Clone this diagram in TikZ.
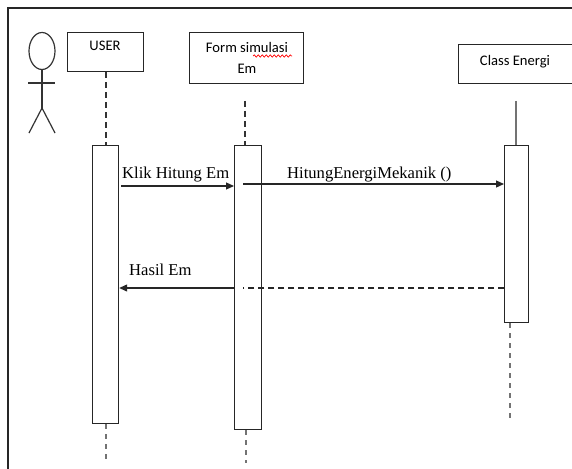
\documentclass[tikz,border=0pt]{standalone}
\usepackage{fontspec}
\setmainfont{Liberation Serif}
\newfontfamily\boxfont{Carlito}
\newfontfamily\msgfont{Liberation Serif}
\usetikzlibrary{arrows.meta,decorations.pathmorphing}
\begin{document}
\begin{tikzpicture}[x=1pt,y=-1pt,
  ln/.style={draw=black!85, line width=1.2pt},
  objbox/.style={ln, fill=white, inner sep=0pt, anchor=north west},
  objtext/.style={font=\boxfont\fontsize{14.6}{21}\selectfont, inner sep=0pt, anchor=base},
  actbox/.style={ln, fill=white, inner sep=0pt, anchor=north west},
  lifedash/.style={draw=black!80, line width=1.2pt, dash pattern=on 6pt off 4pt},
  lifetail/.style={draw=black!55, line width=1.5pt, dash pattern=on 5pt off 5pt},
  msg/.style={draw=black!85, line width=1.2pt, -{Triangle[length=8pt,width=7pt]}},
  retdash/.style={draw=black!85, line width=1.2pt, dash pattern=on 6pt off 4pt},
  msglabel/.style={font=\msgfont\fontsize{16.6}{19}\selectfont, inner sep=0pt, anchor=base west},
  figline/.style={draw=black!80, line width=1.2pt}
]
\useasboundingbox (0,0) rectangle (572,468);
\fill[white] (0,0) rectangle (572,468);

% frame
\draw[ln] (8,470) -- (8,8) -- (576,8);

% actor
\draw[figline] (42,51) ellipse [x radius=13pt, y radius=18.5pt];
\draw[figline] (42,69.5) -- (42,108);
\draw[figline] (28,83) -- (55,83);
\draw[figline] (29,133) -- (42,108) -- (55,133);

% object boxes
\node[objbox, minimum width=76pt, minimum height=39pt] (userbox) at (67,32) {};
\node[objtext] (usertxt) at (105,51) {USER};
\node[objbox, minimum width=114pt, minimum height=51pt] (formbox) at (189,32) {};
\node[objtext] (formtxt) at (247,53) {Form simulasi};
\node[objtext] (formtxt2) at (247,74) {Em};
\draw[red, line width=0.7pt, decorate, decoration={snake, segment length=4pt, amplitude=1.1pt}] (253,56) -- (292,56);
\node[objbox, minimum width=122pt, minimum height=39pt] (classbox) at (458,44) {};
\node[objtext] (classtxt) at (515,66) {Class Energi};

% activations
\node[actbox, minimum width=26pt, minimum height=278pt] (useract) at (92,145) {};
\node[actbox, minimum width=27pt, minimum height=284pt] (formact) at (234,145) {};
\node[actbox, minimum width=24pt, minimum height=177pt] (classact) at (504,145) {};

% lifelines (top)
\coordinate (ftop) at (245,101);
\coordinate (ctop) at (516,101);
\draw[lifedash] (userbox.south -| 106,0) -- (useract.north -| 106,0);
\draw[lifedash] (ftop) -- (ftop |- formact.north);
\draw[draw=black!55, line width=1.4pt] (ctop) -- (ctop |- classact.north);

% lifelines (bottom)
\coordinate (ubot) at (106,460);
\coordinate (fbot) at (246,463);
\coordinate (cbot) at (510,422);
\draw[lifetail] (ubot |- useract.south) -- (ubot);
\draw[lifetail] (fbot |- formact.south) -- (fbot);
\draw[lifetail] (cbot |- classact.south) -- (cbot);

% messages
\coordinate (m1) at (121,186);
\draw[msg] (m1) -- (formact.west |- m1);
\node[msglabel] (m1txt) at (122,178.5) {Klik Hitung Em};

\coordinate (m2) at (243,184);
\draw[msg] (m2) -- (classact.west |- m2);
\node[msglabel] (m2txt) at (287,178) {HitungEnergiMekanik ()};

\coordinate (r) at (243,288);
\draw[retdash] (classact.west |- r) -- (r);
\draw[msg] (formact.west |- r) -- (useract.east |- r);
\node[msglabel] (rtxt) at (129,275) {Hasil Em};
\end{tikzpicture}
\end{document}
